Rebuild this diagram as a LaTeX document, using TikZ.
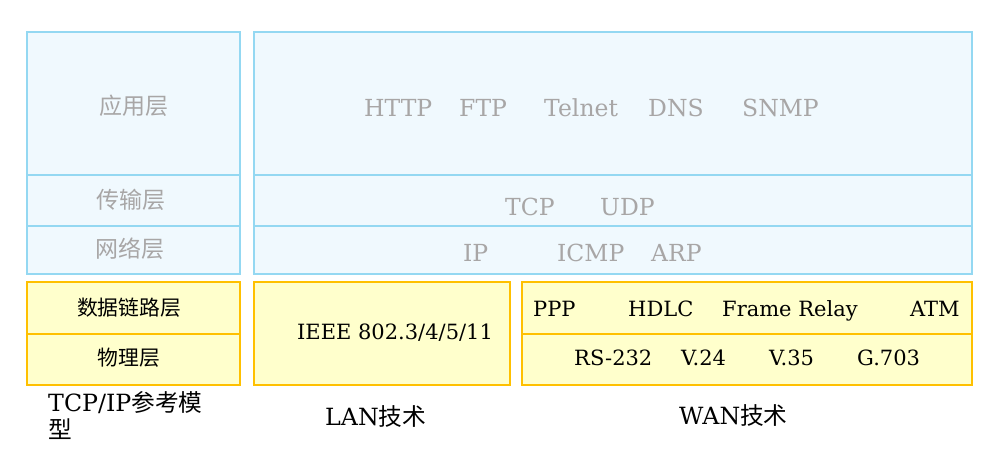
\documentclass[tikz,border=0pt]{standalone}
\usepackage{fontspec}
\setmainfont{DejaVu Serif}
\newfontfamily\cjk{Noto Sans CJK SC}
\definecolor{bfill}{HTML}{F0F9FE}
\definecolor{bline}{HTML}{94D8F2}
\definecolor{yfill}{HTML}{FFFFCC}
\definecolor{yline}{HTML}{FFC000}
\definecolor{gtext}{HTML}{A8A6A6}
\tikzset{
  bluecell/.style={draw=bline, fill=bfill, line width=1.2pt},
  yelcell/.style={draw=yline, fill=yfill, line width=1.2pt},
  glab/.style={text=gtext, font=\cjk\fontsize{23}{27}\selectfont, inner sep=0pt},
  gproto/.style={text=gtext, font=\fontsize{23.5}{28}\selectfont, inner sep=0pt, anchor=base west},
  blab/.style={text=black, font=\cjk\fontsize{20.8}{25}\selectfont, inner sep=0pt},
  bproto/.style={text=black, font=\fontsize{21}{25}\selectfont, inner sep=0pt, anchor=base west},
  caption/.style={text=black, font=\fontsize{23.7}{28}\selectfont, inner sep=0pt, anchor=base west},
}
\begin{document}
\begin{tikzpicture}[x=1pt,y=-1pt]
\useasboundingbox (0,0) rectangle (994,452);
% blue cells
\draw[bluecell] (27,32) rectangle (240,175);
\draw[bluecell] (27,175) rectangle (240,226);
\draw[bluecell] (27,226) rectangle (240,274);
\draw[bluecell] (254,32) rectangle (972,175);
\draw[bluecell] (254,175) rectangle (972,226);
\draw[bluecell] (254,226) rectangle (972,274);
% yellow cells
\draw[yelcell] (27,282) rectangle (240,334);
\draw[yelcell] (27,334) rectangle (240,385);
\draw[yelcell] (254,282) rectangle (510,385);
\draw[yelcell] (522,282) rectangle (972,334);
\draw[yelcell] (522,334) rectangle (972,385);
% layer names
\node[glab] (app) at (134,106) {应用层};
\node[glab] (trans) at (131,200) {传输层};
\node[glab] (net) at (130,249) {网络层};
\node[blab] (link) at (129,308) {数据链路层};
\node[blab] (phys) at (129,358) {物理层};
% application protocols
\node[gproto] (http) at (364,117) {HTTP};
\node[gproto] (ftp) at (459,117) {FTP};
\node[gproto] (telnet) at (544,117) {Telnet};
\node[gproto] (dns) at (648,117) {DNS};
\node[gproto] (snmp) at (742,117) {SNMP};
% transport
\node[gproto] (tcp) at (505,215) {TCP};
\node[gproto] (udp) at (600,215) {UDP};
% network
\node[gproto] (ip) at (463,261) {IP};
\node[gproto] (icmp) at (557,261) {ICMP};
\node[gproto] (arp) at (651,261) {ARP};
% LAN
\node[bproto] (ieee) at (297,339) {IEEE 802.3/4/5/11};
% WAN
\node[bproto] (ppp) at (533,316) {PPP};
\node[bproto] (hdlc) at (628,316) {HDLC};
\node[bproto] (fr) at (722,316) {Frame Relay};
\node[bproto] (atm) at (910,316) {ATM};
\node[bproto] (rs) at (574,365) {RS-232};
\node[bproto] (v24) at (681,365) {V.24};
\node[bproto] (v35) at (769,365) {V.35};
\node[bproto] (g703) at (857,365) {G.703};
% captions
\node[caption] (cap1) at (48,411) {TCP/IP{\cjk 参考模}};
\node[caption] (cap1b) at (48,438) {{\cjk 型}};
\node[caption] (cap2) at (325,425) {LAN{\cjk 技术}};
\node[caption] (cap3) at (679,424) {WAN{\cjk 技术}};
\end{tikzpicture}
\end{document}
